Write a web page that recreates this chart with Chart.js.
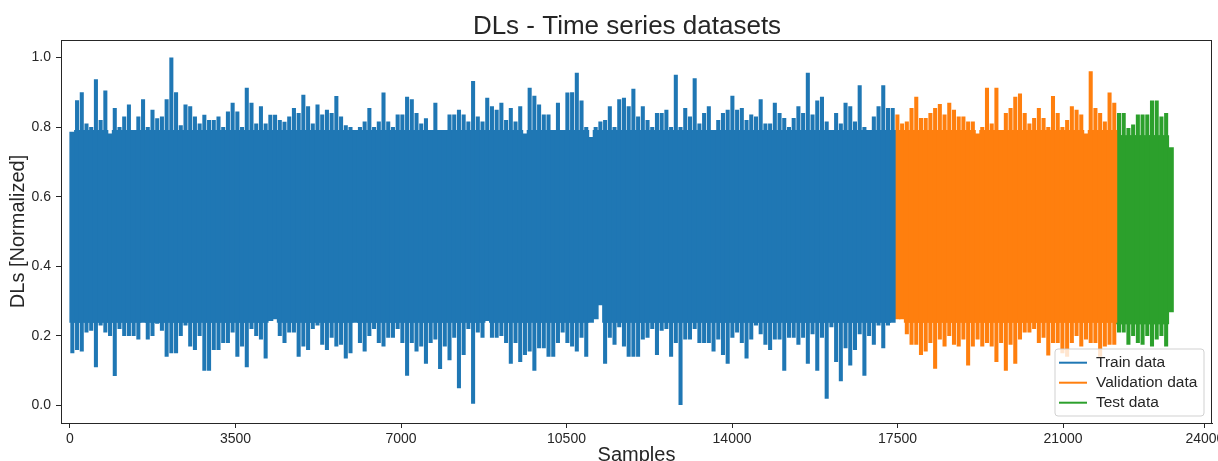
<!DOCTYPE html>
<html>
<head>
<meta charset="utf-8">
<script src="https://cdn.jsdelivr.net/npm/chart.js@4.4.1/dist/chart.umd.min.js"></script>
<style>
html,body{margin:0;padding:0;background:#fff;}
#wrap{width:1218px;height:461px;position:relative;}
</style>
</head>
<body>
<div id="wrap"><canvas id="c" width="1218" height="461"></canvas></div>
<script>
// ---- data (per-bin envelope of each series) ----
const binSize = 99.7;            // samples per bin
const seriesNames = ['Train data', 'Validation data', 'Test data'];

const trainHi = [
0.785,0.877,0.90,0.81,0.80,0.937,0.82,0.905,0.78,0.855,
0.80,0.83,0.865,0.79,0.83,0.88,0.80,0.85,0.825,0.83,
0.88,1.0,0.90,0.805,0.865,0.86,0.83,0.81,0.835,0.82,
0.82,0.83,0.80,0.845,0.87,0.845,0.80,0.913,0.87,0.81,
0.86,0.81,0.835,0.835,0.82,0.815,0.83,0.855,0.84,
0.893,0.86,0.81,0.865,0.836,0.85,0.84,0.889,0.83,0.805,
0.80,0.79,0.80,0.816,0.855,0.80,0.816,0.899,0.816,0.80,
0.836,0.836,0.887,0.88,0.84,0.81,0.825,0.79,0.87,0.79,
0.79,0.836,0.836,0.85,0.836,0.816,0.932,0.83,0.816,0.884,
0.86,0.85,0.87,0.82,0.855,0.816,0.86,0.78,0.913,0.89,
0.865,0.836,0.836,0.79,0.87,0.79,0.899,0.90,0.956,0.876,
0.80,0.77,0.80,0.816,
0.82,0.86,0.80,0.88,0.884,0.86,0.91,0.83,0.86,0.82,
0.80,0.84,0.84,0.85,0.80,0.95,0.80,0.855,0.83,0.94,
0.81,0.84,0.86,0.79,0.82,0.84,0.85,0.89,0.85,0.855,
0.82,0.836,0.83,0.88,0.81,0.81,0.87,0.84,0.826,0.80,
0.826,0.86,0.84,0.956,0.836,0.876,0.887,0.816,0.79,0.84,
0.81,0.87,0.86,0.816,0.92,0.80,0.79,0.83,0.86,0.92,
0.855,0.855
];
const trainLo = [
0.15,0.16,0.155,0.21,0.215,0.11,0.23,0.21,0.20,0.085,
0.22,0.20,0.20,0.20,0.19,0.24,0.19,0.20,0.235,0.215,
0.14,0.15,0.15,0.20,0.23,0.17,0.16,0.20,0.10,0.10,
0.16,0.16,0.18,0.18,0.21,0.14,0.17,0.11,0.22,0.20,
0.19,0.135,0.245,0.25,0.20,0.18,0.21,0.21,0.14,
0.17,0.16,0.22,0.23,0.175,0.16,0.195,0.17,0.175,0.135,
0.15,0.24,0.18,0.155,0.20,0.22,0.18,0.17,0.195,0.195,
0.22,0.18,0.086,0.18,0.155,0.17,0.12,0.18,0.19,0.105,
0.17,0.13,0.195,0.05,0.145,0.22,0.005,0.21,0.195,0.245,
0.195,0.195,0.20,0.18,0.12,0.18,0.125,0.145,0.155,0.10,
0.165,0.165,0.14,0.14,0.18,0.21,0.18,0.17,0.155,0.195,
0.14,0.24,0.25,0.29,
0.12,0.195,0.175,0.225,0.17,0.14,0.14,0.14,0.19,0.195,
0.22,0.145,0.215,0.22,0.14,0.18,0.0,0.19,0.19,0.22,
0.18,0.18,0.18,0.155,0.19,0.145,0.12,0.195,0.21,0.18,
0.135,0.19,0.23,0.205,0.175,0.16,0.19,0.19,0.10,0.195,
0.195,0.175,0.195,0.12,0.205,0.10,0.195,0.02,0.225,0.125,
0.07,0.165,0.115,0.16,0.205,0.086,0.20,0.175,0.23,0.165,
0.23,0.24
];
const valHi = [
0.836,0.81,0.816,0.855,0.887,0.826,0.826,0.84,0.855,0.866,
0.836,0.87,0.85,0.83,0.83,0.816,0.816,0.78,0.80,0.913,
0.81,0.913,0.79,0.84,0.855,0.887,0.896,0.84,0.81,0.826,
0.855,0.826,0.80,0.889,0.84,0.80,0.82,0.86,0.85,0.836,
0.78,0.96,0.855,0.84,0.816,0.899,0.87
];
const valLo = [
0.25,0.25,0.205,0.175,0.175,0.145,0.155,0.18,0.106,0.19,
0.17,0.20,0.175,0.17,0.19,0.115,0.17,0.19,0.17,0.18,
0.17,0.125,0.18,0.10,0.175,0.12,0.19,0.21,0.21,0.22,
0.18,0.195,0.144,0.18,0.18,0.15,0.14,0.18,0.20,0.17,
0.19,0.18,0.18,0.14,0.17,0.175,0.175
];
const testHi = [0.84,0.84,0.797,0.807,0.836,0.836,0.836,0.876,0.876,0.83,0.84,0.74];
const testLo = [0.21,0.21,0.175,0.20,0.18,0.175,0.20,0.17,0.19,0.20,0.17,0.27];

// level band that each series fills solidly
const coreLow  = [0.24, 0.24, 0.235];
const coreHigh = [0.79, 0.79, 0.775];

const xTicks = [0, 3500, 7000, 10500, 14000, 17500, 21000, 24000];
const yTicks = [0.0, 0.2, 0.4, 0.6, 0.8, 1.0];

const titleText = 'DLs - Time series datasets';
const xTitle = 'Samples';
const yTitle = 'DLs [Normalized]';

// ---- styling ----
const colors = ['#1f77b4', '#ff7f0e', '#2ca02c'];
const FONT = '"Liberation Sans", Arial, Helvetica, sans-serif';
const INK = '#262626';

const seriesHi = [trainHi, valHi, testHi];
const seriesLo = [trainLo, valLo, testLo];
const seriesStart = [0, trainHi.length * binSize, (trainHi.length + valHi.length) * binSize];

function spikeBars(s) {
  return seriesHi[s].map((h, i) => ({ x: seriesStart[s] + (i + 0.5) * binSize, y: [seriesLo[s][i], h] }));
}
function coreBars(s) {
  return seriesHi[s].map((h, i) => ({
    x: seriesStart[s] + (i + 0.5) * binSize,
    y: [Math.max(seriesLo[s][i], coreLow[s]), Math.min(h, coreHigh[s])]
  }));
}

const datasets = [];
seriesNames.forEach((name, s) => {
  datasets.push({ label: name, data: coreBars(s), backgroundColor: colors[s], borderWidth: 0,
                  grouped: false, barPercentage: 1, categoryPercentage: 1, inflateAmount: 0.6 });
  datasets.push({ label: name, data: spikeBars(s), backgroundColor: colors[s], borderWidth: 0,
                  grouped: false, barPercentage: 0.86, categoryPercentage: 1, inflateAmount: 0 });
});

const decor = {
  id: 'decor',
  afterDatasetsDraw(chart) {
    const { ctx, chartArea: a } = chart;
    ctx.save();
    ctx.strokeStyle = INK;
    ctx.lineWidth = 1;
    ctx.strokeRect(Math.round(a.left) + 0.5, Math.round(a.top) + 0.5,
                   Math.round(a.right - a.left) - 1, Math.round(a.bottom - a.top));
    // legend
    const lx = 1055, ly = 349, lw = 149, lh = 67, r = 3;
    ctx.beginPath();
    ctx.moveTo(lx + r, ly);
    ctx.arcTo(lx + lw, ly, lx + lw, ly + lh, r);
    ctx.arcTo(lx + lw, ly + lh, lx, ly + lh, r);
    ctx.arcTo(lx, ly + lh, lx, ly, r);
    ctx.arcTo(lx, ly, lx + lw, ly, r);
    ctx.closePath();
    ctx.fillStyle = 'rgba(255,255,255,0.8)';
    ctx.fill();
    ctx.strokeStyle = 'rgba(204,204,204,0.9)';
    ctx.lineWidth = 1;
    ctx.stroke();
    ctx.font = '15.5px ' + FONT;
    ctx.textBaseline = 'middle';
    ctx.textAlign = 'left';
    seriesNames.forEach((name, i) => {
      const yy = 362.7 + i * 20;
      ctx.strokeStyle = colors[i];
      ctx.lineWidth = 2;
      ctx.beginPath();
      ctx.moveTo(1059, yy);
      ctx.lineTo(1087, yy);
      ctx.stroke();
      ctx.fillStyle = INK;
      ctx.fillText(name, 1096, yy + 0.5);
    });
    ctx.restore();
  },
  afterDraw(chart) {
    const { ctx, chartArea: a } = chart;
    ctx.save();
    ctx.fillStyle = INK;
    ctx.textAlign = 'center';
    ctx.textBaseline = 'alphabetic';
    ctx.font = '26px ' + FONT;
    ctx.fillText(titleText, 627, 34);
    ctx.font = '20px ' + FONT;
    ctx.fillText(xTitle, (a.left + a.right) / 2, 461);
    ctx.translate(18, (a.top + a.bottom) / 2);
    ctx.rotate(-Math.PI / 2);
    ctx.textBaseline = 'middle';
    ctx.fillText(yTitle, 0, 0);
    ctx.restore();
  }
};

new Chart(document.getElementById('c'), {
  type: 'bar',
  data: { datasets },
  options: {
    responsive: false,
    animation: false,
    devicePixelRatio: 1,
    layout: { padding: { top: 40, right: 6, left: 0, bottom: 0 } },
    plugins: { legend: { display: false }, title: { display: false }, tooltip: { enabled: false } },
    scales: {
      x: {
        type: 'linear',
        min: -190, max: 24150,
        offset: false,
        afterBuildTicks: s => { s.ticks = xTicks.map(v => ({ value: v })); },
        afterFit: s => { s.height = 38; s.paddingLeft = 0; s.paddingRight = 0; },
        ticks: { autoSkip: false, maxRotation: 0, padding: 3, color: INK,
                 font: { family: FONT, size: 14 }, callback: v => String(v) },
        grid: { offset: false, drawOnChartArea: false, drawTicks: true, tickLength: 5, color: INK },
        border: { display: true, color: INK, width: 1 }
      },
      y: {
        type: 'linear',
        min: -0.05, max: 1.05,
        afterBuildTicks: s => { s.ticks = yTicks.map(v => ({ value: v })); },
        afterFit: s => { s.width = 61; s.paddingTop = 0; s.paddingBottom = 0; },
        ticks: { autoSkip: false, padding: 5, color: INK,
                 font: { family: FONT, size: 14 }, callback: v => Number(v).toFixed(1) },
        grid: { offset: false, drawOnChartArea: false, drawTicks: true, tickLength: 5, color: INK },
        border: { display: true, color: INK, width: 1 }
      }
    }
  },
  plugins: [decor]
});
</script>
</body>
</html>
